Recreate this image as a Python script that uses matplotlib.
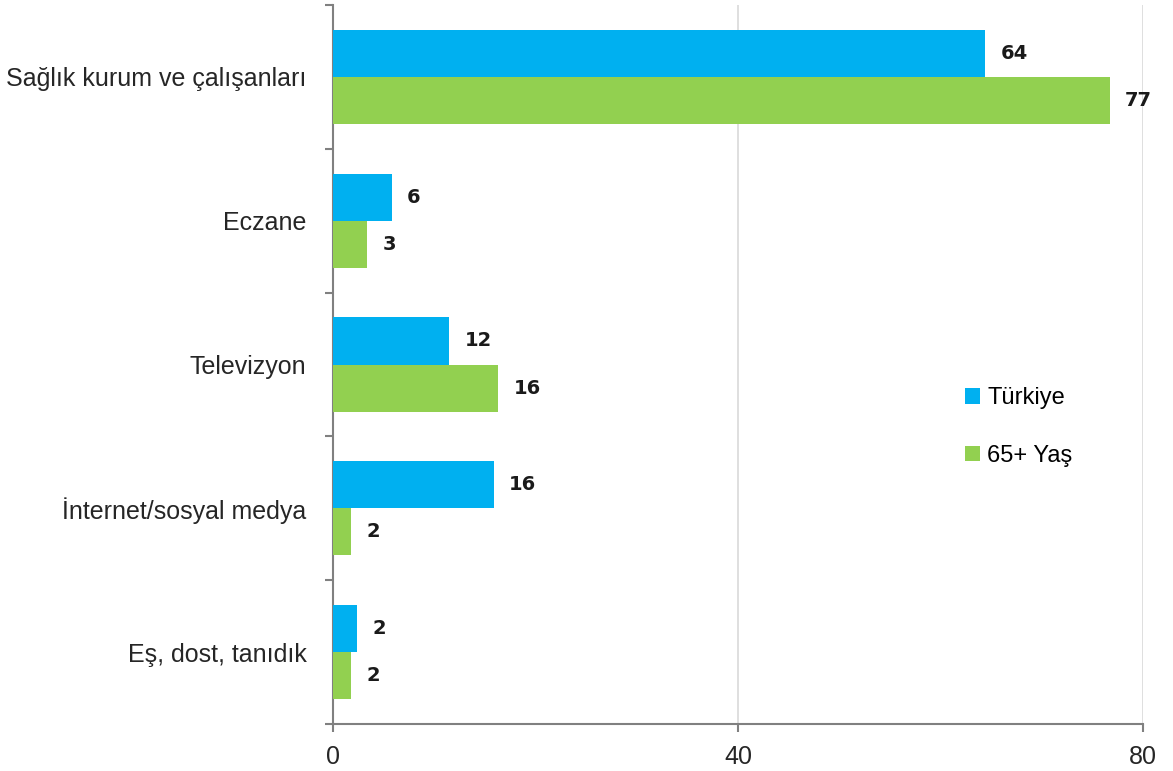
import matplotlib.pyplot as plt
import numpy as np

categories = ["Sağlık kurum ve çalışanları", "Eczane", "Televizyon",
              "İnternet/sosyal medya", "Eş, dost, tanıdık"]
turkiye = [64.4, 5.8, 11.5, 15.9, 2.4]
yas65 = [76.7, 3.4, 16.3, 1.8, 1.8]
series_names = ["Türkiye", "65+ Yaş"]
xticks = [0, 40, 80]

BLUE = "#00B0F0"
GREEN = "#92D050"
GREY = "#808080"

plt.rcParams["font.family"] = ["Liberation Sans", "DejaVu Sans"]

fig = plt.figure(figsize=(11.73, 7.71), dpi=100)
ax = fig.add_axes([333 / 1173, 1 - 724 / 771, (1143 - 333) / 1173, (724 - 5) / 771])

y = np.arange(len(categories))
h = 0.327
b1 = ax.barh(y - h / 2, turkiye, height=h, color=BLUE, label=series_names[0], zorder=3)
b2 = ax.barh(y + h / 2, yas65, height=h, color=GREEN, label=series_names[1], zorder=3)

for bars, vals in ((b1, turkiye), (b2, yas65)):
    for bar, v in zip(bars, vals):
        ax.annotate(f"{v:.0f}", (bar.get_width(), bar.get_y() + bar.get_height() / 2),
                    xytext=(11, 0), textcoords="offset points", ha="left", va="center",
                    fontsize=14, fontweight="heavy", family="DejaVu Sans", color="#1a1a1a")

ax.set_xlim(0, 80)
ax.set_ylim(len(categories) - 0.5, -0.5)
ax.set_xticks(xticks)
ax.set_xticklabels([str(t) for t in xticks], fontsize=18, color="#262626")
ax.set_yticks(y)
ax.set_yticklabels(categories, fontsize=18, color="#262626")
ax.set_yticks(np.arange(-0.5, len(categories)), minor=True)
ax.tick_params(axis="y", which="major", length=0, pad=19)
ax.tick_params(axis="y", which="minor", length=6, width=1.5, color=GREY, direction="out")
ax.tick_params(axis="x", length=6, width=1.5, color=GREY, direction="out", pad=9)

ax.grid(axis="x", color="#D9D9D9", linewidth=1.2, zorder=0)
for s in ("top", "right"):
    ax.spines[s].set_visible(False)
for s in ("left", "bottom"):
    ax.spines[s].set_color(GREY)
    ax.spines[s].set_linewidth(1.5)

ax.legend(loc="center left", bbox_to_anchor=(965 / 1173, 1 - 427 / 771),
          bbox_transform=fig.transFigure, frameon=False, fontsize=17,
          handlelength=0.65, handleheight=0.65, handletextpad=0.3, labelspacing=1.5,
          borderaxespad=0, borderpad=0)

fig.savefig("out.png", dpi=100)
